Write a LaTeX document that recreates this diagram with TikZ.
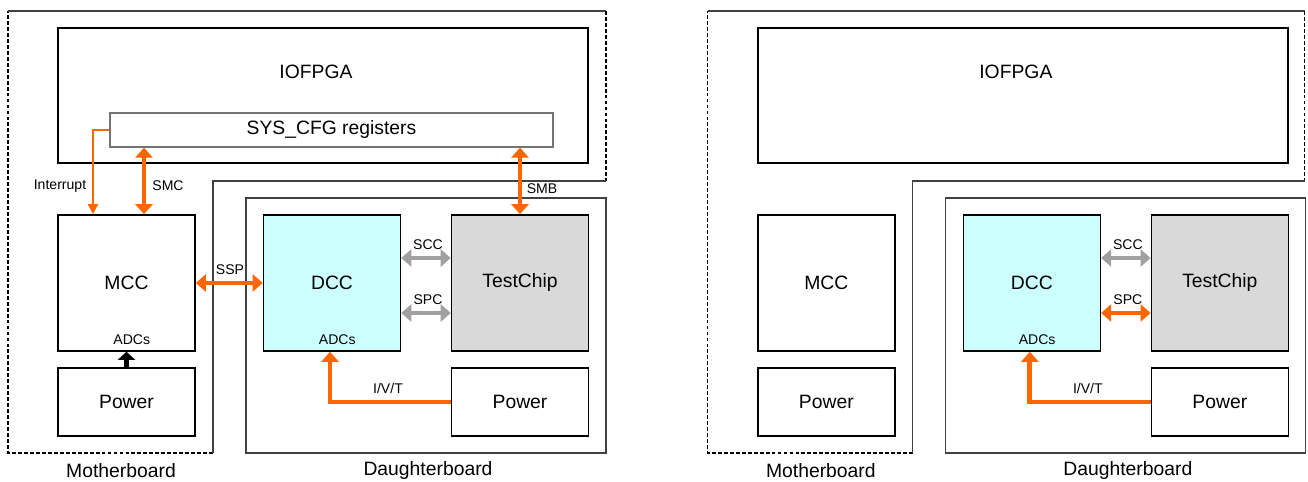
\documentclass[tikz,border=0pt]{standalone}
\usepackage{fontspec}
\setmainfont{Liberation Sans}
\usetikzlibrary{arrows.meta,calc,positioning}

\definecolor{busorange}{HTML}{FF6600}
\definecolor{busgray}{HTML}{A0A0A0}
\definecolor{dccfill}{HTML}{CCFFFF}
\definecolor{chipfill}{HTML}{D9D9D9}

\tikzset{
  blk/.style={draw, line width=0.9pt, minimum width=2.74cm, minimum height=2.72cm,
    inner sep=0pt, font=\fontsize{11}{13}\selectfont},
  pwr/.style={blk, minimum height=1.36cm},
  board/.style={draw=black!75, line width=0.6pt},
  brddash/.style={draw=black, line width=0.7pt, dash pattern=on 2.2pt off 1.2pt},
  big/.style={font=\fontsize{11}{13}\selectfont, inner sep=1pt},
  lbl/.style={font=\fontsize{8}{9}\selectfont, inner sep=1pt},
  bus/.style={line width=2.8pt, {Triangle[width=0.34cm,length=0.2cm]}-{Triangle[width=0.34cm,length=0.2cm]}},
  obus/.style={bus, draw=busorange, fill=busorange},
  gbus/.style={bus, draw=busgray, fill=busgray},
  ofeed/.style={line width=2.8pt, draw=busorange, -{Triangle[width=0.34cm,length=0.2cm]}},
  kfeed/.style={line width=2.8pt, draw=black, -{Triangle[width=0.34cm,length=0.16cm]}},
  irq/.style={line width=0.9pt, draw=busorange, -{Triangle[width=0.2cm,length=0.2cm]}}
}

\begin{document}
\begin{tikzpicture}[x=0.02cm, y=-0.02cm]
  \useasboundingbox (0,0) rectangle (1308,482);

  % Left: with system configuration
  % Board outlines
  \draw[brddash] (213,453) -- (8,453) -- (8,11);
  \draw[board] (8,11) -- (606,11);
  \draw[brddash] (606,11) -- (606,181);
  \draw[board] (606,181) -- (213,181) -- (213,453);
  \draw[board] (246,198) rectangle (606,453);

  % Blocks
  \node[blk, minimum width=10.6cm, minimum height=2.7cm] (fpga) at (323,95.5) {};
  \node[big] (fpgatxt) at (316,72) {IOFPGA};
  \node[blk, draw=black!55, line width=0.7pt, minimum width=8.86cm, minimum height=0.68cm,
    fill=white] (syscfg) at (331.5,130) {SYS\_CFG registers};
  \node[blk] (mcc) at (126.5,283) {MCC};
  \node[pwr] (pwrm) at (126.5,402) {Power};
  \node[blk, fill=dccfill] (dcc) at (332,283) {DCC};
  \node[blk, fill=chipfill] (chip) at (520,283) {TestChip};
  \node[pwr] (pwrd) at (520,402) {Power};
  \node[lbl, above=3pt of mcc.south, xshift=3pt] (adcm) {ADCs};
  \node[lbl, above=3pt of dcc.south, xshift=3pt] (adcd) {ADCs};

  % Buses
  \coordinate (smcb) at ($(mcc.north)+(17.5,0)$);
  \coordinate (irqb) at ($(mcc.north)+(-33.5,0)$);
  \draw[irq] (syscfg.west) -| (irqb);
  \draw[obus] (smcb |- syscfg.south) -- (smcb);
  \draw[obus] (chip.north |- syscfg.south) -- (chip.north);
  \draw[obus] (mcc.east) -- (dcc.west);
  \draw[gbus] ($(dcc.east)+(0,-25)$) -- ($(chip.west)+(0,-25)$);
  \draw[gbus] ($(dcc.east)+(0,30)$) -- ($(chip.west)+(0,30)$);
  \draw[ofeed] (pwrd.west) -| ($(dcc.south)+(-2,0)$);
  \draw[kfeed] (pwrm.north) -- (mcc.south);

  % Bus labels
  \node[lbl] (irqtxt) at (60,186) {Interrupt};
  \node[lbl] (smctxt) at (168,186) {SMC};
  \node[lbl] (smbtxt) at (542,189) {SMB};
  \node[lbl] (ssptxt) at (230,270) {SSP};
  \node[lbl] (scctxt) at (428,245) {SCC};
  \node[lbl] (spctxt) at (428,300) {SPC};
  \node[lbl] (ivttxt) at (388,388) {I/V/T};
  \node[big] (mbtxt) at (121,471) {Motherboard};
  \node[big] (dbtxt) at (428,471) {Daughterboard};

  % Right: without system configuration
  \begin{scope}[xshift=14cm]
    \draw[brddash] (213,453) -- (8,453) -- (8,11);
    \draw[board] (8,11) -- (605,11);
    \draw[brddash] (605,11) -- (605,181);
    \draw[board] (605,181) -- (213,181) -- (213,453);
    \draw[board] (246,198) rectangle (606,453);

    \node[blk, minimum width=10.6cm, minimum height=2.7cm] (fpgaR) at (323,95.5) {};
    \node[big] (fpgatxtR) at (316,72) {IOFPGA};
    \node[blk] (mccR) at (126.5,283) {MCC};
    \node[pwr] (pwrmR) at (126.5,402) {Power};
    \node[blk, fill=dccfill] (dccR) at (332,283) {DCC};
    \node[blk, fill=chipfill] (chipR) at (520,283) {TestChip};
    \node[pwr] (pwrdR) at (520,402) {Power};
    \node[lbl, above=3pt of dccR.south, xshift=3pt] (adcdR) {ADCs};

    \draw[gbus] ($(dccR.east)+(0,-25)$) -- ($(chipR.west)+(0,-25)$);
    \draw[obus] ($(dccR.east)+(0,30)$) -- ($(chipR.west)+(0,30)$);
    \draw[ofeed] (pwrdR.west) -| ($(dccR.south)+(-2,0)$);

    \node[lbl] (scctxtR) at (428,245) {SCC};
    \node[lbl] (spctxtR) at (428,300) {SPC};
    \node[lbl] (ivttxtR) at (388,388) {I/V/T};
    \node[big] (mbtxtR) at (121,471) {Motherboard};
    \node[big] (dbtxtR) at (428,471) {Daughterboard};
  \end{scope}
\end{tikzpicture}
\end{document}
